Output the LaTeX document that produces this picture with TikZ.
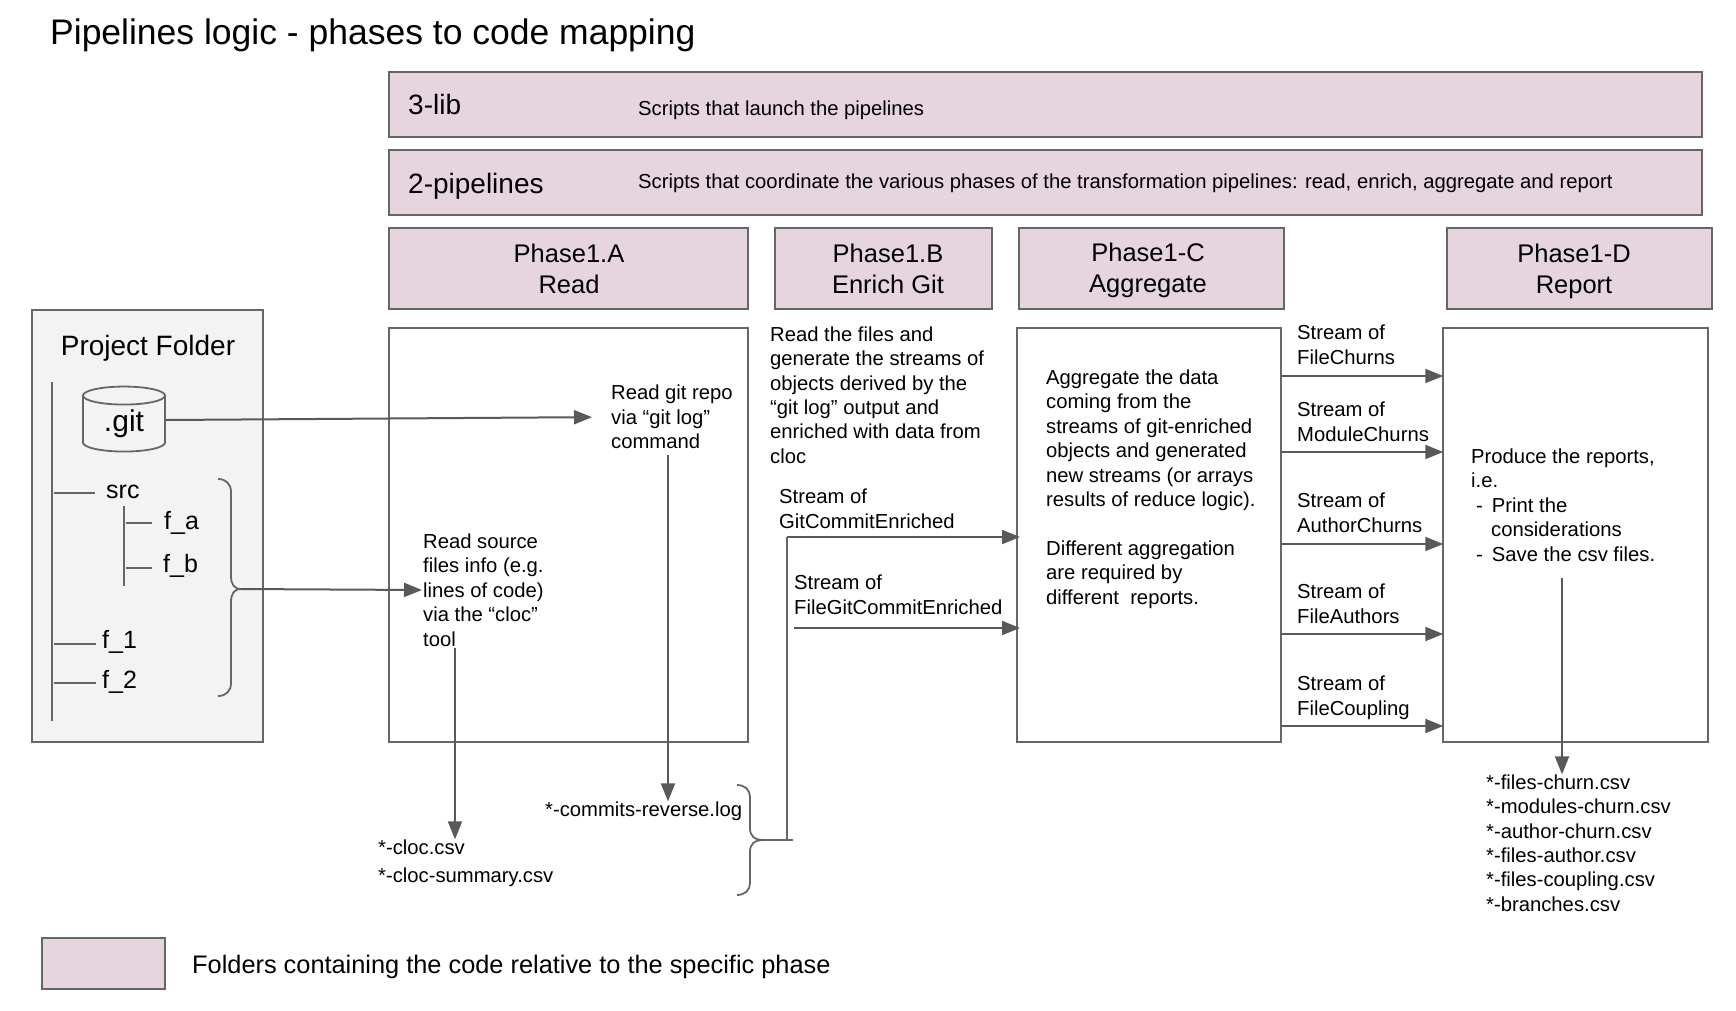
\documentclass[tikz,border=0pt]{standalone}
\usepackage{fontspec}
\setmainfont{Liberation Sans}
\usetikzlibrary{shapes.geometric, arrows.meta}
\definecolor{phasepink}{RGB}{230,213,222}
\definecolor{folderfill}{RGB}{243,243,243}
\definecolor{edgegray}{RGB}{102,102,102}
\definecolor{linegray}{RGB}{89,89,89}
\newcommand{\fsize}[2]{\fontsize{#1}{#2}\selectfont}
\tikzset{
  pinkbox/.style={draw=edgegray, line width=2pt, fill=phasepink, inner sep=0pt},
  whitebox/.style={draw=edgegray, line width=2pt, fill=white, inner sep=0pt},
  phaselabel/.style={font=\fsize{25.5}{31}, align=center, inner sep=0pt, text depth=0pt},
  note/.style={font=\fsize{20.25}{24.4}, align=left, anchor=west, inner sep=0pt},
  streamlabel/.style={font=\fsize{20.25}{25.4}, align=left, anchor=west, inner sep=0pt},
  treelabel/.style={font=\fsize{25}{30}, anchor=west, inner sep=0pt},
  flow/.style={draw=linegray, line width=2pt, -{Triangle[length=18pt, width=14pt]}},
  treeline/.style={draw=edgegray, line width=1.8pt},
  bracket/.style={draw=edgegray, line width=1.8pt}
}
\begin{document}
\begin{tikzpicture}[x=1pt, y=-1pt]
  \useasboundingbox (0,0) rectangle (1736,1010);

  % Title
  \node[font=\fsize{35.5}{40}, anchor=west, inner sep=0pt] (title) at (50,35.5) {Pipelines logic - phases to code mapping};

  % Top level folders
  \node[pinkbox, minimum width=1313pt, minimum height=65pt] (libbox) at (1045.5,104.5) {};
  \node[font=\fsize{28}{32}, anchor=west, inner sep=0pt] (libname) at (408,104) {3-lib};
  \node[note] (libtext) at (638,110) {Scripts that launch the pipelines};
  \node[pinkbox, minimum width=1313pt, minimum height=65pt] (pipebox) at (1045.5,182) {};
  \node[font=\fsize{28}{32}, anchor=west, inner sep=0pt] (pipename) at (408,186) {2-pipelines};
  \node[note] (pipetext) at (638,183) {Scripts that coordinate the various phases of the transformation pipelines: read, enrich, aggregate and report};

  % Phase folders
  \node[pinkbox, minimum width=359pt, minimum height=81pt] (phaseA) at (568.5,268.5) {};
  \node[pinkbox, minimum width=217pt, minimum height=81pt] (phaseB) at (883.5,268.5) {};
  \node[pinkbox, minimum width=264.5pt, minimum height=81pt] (phaseC) at (1151.5,268.5) {};
  \node[pinkbox, minimum width=264.5pt, minimum height=81pt] (phaseD) at (1579.5,268.5) {};
  \node[phaselabel] (labelA) at (569,269) {Phase1.A\\Read};
  \node[phaselabel] (labelB) at (888,269) {Phase1.B\\Enrich Git};
  \node[phaselabel] (labelC) at (1148,268) {Phase1-C\\Aggregate};
  \node[phaselabel] (labelD) at (1574,269) {Phase1-D\\Report};

  % Phase contents
  \node[whitebox, minimum width=359pt, minimum height=414pt] (readbox) at (568.5,535) {};
  \node[whitebox, minimum width=264pt, minimum height=414pt] (aggbox) at (1149,535) {};
  \node[whitebox, minimum width=264.5pt, minimum height=414pt] (repbox) at (1575.5,535) {};

  % Project folder
  \node[draw=edgegray, line width=2pt, fill=folderfill, minimum width=230.5pt, minimum height=432pt] (project) at (147.5,526) {};
  \node[font=\fsize{28}{32}, inner sep=0pt] (projname) at (148,348) {Project Folder};
  \node[cylinder, shape border rotate=90, aspect=0.45, draw=edgegray, line width=1.8pt, fill=folderfill, font=\fsize{30}{34},
    minimum width=82pt, minimum height=65pt, inner sep=0pt] (gitdb) at (124,424) {\raisebox{-4pt}{.git}};

  % Folder tree
  \coordinate (treetop) at (52,382);
  \coordinate (subtop) at (124,506);
  \draw[treeline] (treetop) -- (52,721);
  \draw[treeline] (subtop) -- (124,586);
  \draw[treeline] (54,493) -- (95,493);
  \draw[treeline] (126,523) -- (152,523);
  \draw[treeline] (126,568) -- (152,568);
  \draw[treeline] (54,644) -- (96,644);
  \draw[treeline] (54,683) -- (96,683);
  \node[treelabel] (srcname) at (106,492) {src};
  \node[treelabel] (fa) at (164,523) {f\_a};
  \node[treelabel] (fb) at (163,566) {f\_b};
  \node[treelabel] (fone) at (102,642) {f\_1};
  \node[treelabel] (ftwo) at (102,682) {f\_2};

  % Braces
  \coordinate (srctip) at (241,589);
  \coordinate (logtip) at (764,840);
  \draw[bracket] (218,479) .. controls (226,479) and (231,484) .. (231,492) -- (231,576)
    .. controls (231,584) and (234,589) .. (srctip) .. controls (234,589) and (231,594) .. (231,602)
    -- (231,683) .. controls (231,691) and (226,696) .. (218,696);
  \draw[bracket] (737,785) .. controls (745,785) and (750,790) .. (750,797) -- (750,828)
    .. controls (750,836) and (754,840) .. (logtip) .. controls (754,840) and (750,844) .. (750,852)
    -- (750,883) .. controls (750,890) and (745,895) .. (737,895);

  % Read phase
  \node[note] (readgit) at (611,417) {Read git repo\\via “git log”\\command};
  \node[note] (readsrc) at (423,590) {Read source\\files info (e.g.\\lines of code)\\via the “cloc”\\tool};
  \node[note, font=\fsize{20.25}{28}] (cloc) at (378,863) {*-cloc.csv\\*-cloc-summary.csv};
  \node[note] (commits) at (545,811) {*-commits-reverse.log};
  \draw[flow, shorten >=19pt] ([yshift=4pt]gitdb.east) -- (readgit.west);
  \draw[flow, shorten >=1pt] (srctip) -- (readsrc.west);
  \coordinate (gitout) at (668,455);
  \coordinate (srcout) at (455,648);
  \draw[flow] (gitout) -- (gitout |- commits.north) ;
  \draw[flow] (srcout) -- (srcout |- cloc.north);

  % Enrich phase
  \node[note] (enrichtext) at (770,395) {Read the files and\\generate the streams of\\objects derived by the\\“git log” output and\\enriched with data from\\cloc};
  \node[streamlabel] (sgit) at (779,508.5) {Stream of\\GitCommitEnriched};
  \node[streamlabel] (sfilegit) at (794,594.5) {Stream of\\FileGitCommitEnriched};
  \coordinate (trunktop) at (787,537);
  \coordinate (trunkend) at (793,840);
  \coordinate (filegitout) at (794,628);
  \draw[treeline] (logtip) -- (trunkend);
  \draw[treeline] (trunktop) -- (trunktop |- trunkend);
  \draw[flow, shorten >=-4pt] (trunktop) -- (trunktop -| aggbox.west);
  \draw[flow, shorten >=-4pt] (filegitout) -- (filegitout -| aggbox.west);

  % Aggregate phase
  \node[note] (aggtext) at (1046,489) {Aggregate the data\\coming from the\\streams of git-enriched\\objects and generated\\new streams (or arrays\\results of reduce logic).\\[24.4pt]Different aggregation\\are required by\\different\ \ reports.};
  \node[streamlabel] (schurn) at (1297,344.5) {Stream of\\FileChurns};
  \node[streamlabel] (smodule) at (1297,421.5) {Stream of\\ModuleChurns};
  \node[streamlabel] (sauthor) at (1297,512.5) {Stream of\\AuthorChurns};
  \node[streamlabel] (sfileauth) at (1297,603.5) {Stream of\\FileAuthors};
  \node[streamlabel] (scoupling) at (1297,697.5) {Stream of\\FileCoupling};
  \coordinate (churnout) at (1281,376);
  \coordinate (moduleout) at (1281,452);
  \coordinate (authorout) at (1281,544);
  \coordinate (fileauthout) at (1281,634);
  \coordinate (couplingout) at (1281,726);
  \draw[flow, shorten >=-1pt] (churnout) -- (churnout -| repbox.west);
  \draw[flow, shorten >=-1pt] (moduleout) -- (moduleout -| repbox.west);
  \draw[flow, shorten >=-1pt] (authorout) -- (authorout -| repbox.west);
  \draw[flow, shorten >=-1pt] (fileauthout) -- (fileauthout -| repbox.west);
  \draw[flow, shorten >=-1pt] (couplingout) -- (couplingout -| repbox.west);

  % Report phase
  \node[note] (reptext) at (1471,505) {Produce the reports,\\i.e.\\\hspace*{5pt}-\hspace*{9pt}Print the\\\hspace*{20pt}considerations\\\hspace*{5pt}-\hspace*{9pt}Save the csv files.};
  \node[note] (outputs) at (1486,843) {*-files-churn.csv\\*-modules-churn.csv\\*-author-churn.csv\\*-files-author.csv\\*-files-coupling.csv\\*-branches.csv};
  \coordinate (repout) at (1562,578);
  \draw[flow] (repout) -- (repout |- outputs.north);

  % Legend
  \node[pinkbox, minimum width=123pt, minimum height=51pt] (legendbox) at (103.5,963.5) {};
  \node[font=\fsize{25.35}{30}, anchor=west, inner sep=0pt] (legendtext) at (192,967) {Folders containing the code relative to the specific phase};
\end{tikzpicture}
\end{document}
